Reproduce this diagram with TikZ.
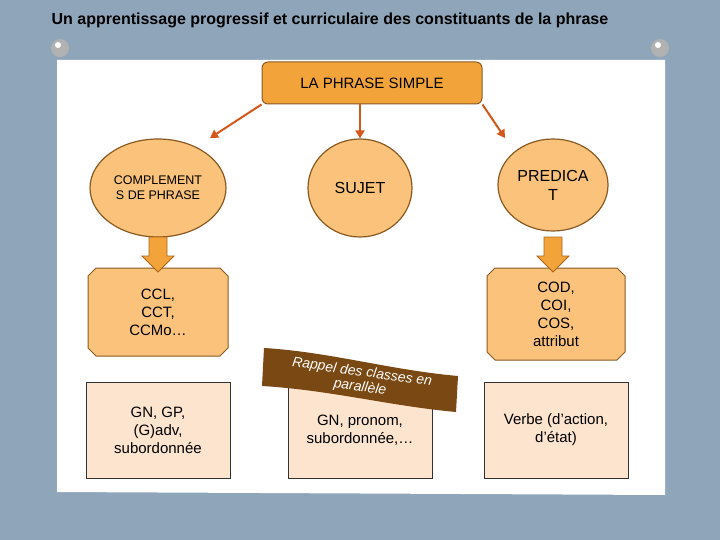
\documentclass[tikz,border=0pt]{standalone}
\usepackage{fontspec}
\setmainfont{Liberation Sans}
\usetikzlibrary{shapes.geometric,shapes.misc,arrows.meta}
\definecolor{bg}{HTML}{8FA6BA}
\definecolor{orA}{HTML}{F2A33A}
\definecolor{orL}{HTML}{FAC27A}
\definecolor{peach}{HTML}{FDE4CF}
\definecolor{brd}{HTML}{8A5A22}
\definecolor{arr}{HTML}{D4581C}
\definecolor{ban}{HTML}{7A4812}
\begin{document}
\begin{tikzpicture}[x=1pt,y=-1pt,
  oval/.style={ellipse,draw=brd,fill=orL,line width=1.2pt,align=center},
  clip8/.style={chamfered rectangle,chamfered rectangle xsep=4pt,chamfered rectangle ysep=4pt,draw=brd,fill=orL,line width=1pt,align=center,font=\fontsize{15}{18}\selectfont},
  lowbox/.style={draw=black!80,fill=peach,line width=1pt,align=center,font=\fontsize{15}{18}\selectfont,minimum width=144pt,minimum height=96pt},
  link/.style={draw=arr,line width=2pt,-{Triangle[length=8pt,width=9pt]}},
  blk/.style={draw=brd!70!orange,fill=orA,line width=0.8pt}]
\useasboundingbox (0,0) rectangle (720,540);
\fill[bg] (0,0) rectangle (720,540);
\fill[white] (57,60) -- (665,60) -- (665,495) -- (57,492) -- cycle;
\foreach \px in {60,660}{\fill[gray!60] (\px,48) circle (9pt); \fill[white] (\px-2,45) circle (3pt);}
\node[font=\bfseries\fontsize{16}{19}\selectfont] (title) at (330,20) {Un apprentissage progressif et curriculaire des constituants de la phrase};
\node[draw=brd,fill=orA,rounded corners=6pt,line width=1pt,minimum width=220pt,minimum height=42pt,font=\fontsize{15}{18}\selectfont] (top) at (372,83) {LA PHRASE SIMPLE};
\node[oval,minimum width=136pt,minimum height=98pt,font=\fontsize{12.5}{15}\selectfont] (cp) at (158,188) {COMPLEMENT\\S DE PHRASE};
\node[oval,minimum width=104pt,minimum height=98pt,font=\fontsize{16}{19}\selectfont] (suj) at (360,188) {SUJET};
\node[oval,minimum width=106pt,minimum height=92pt,font=\fontsize{16}{19}\selectfont] (pred) at (553,185) {PREDICA\\T};
\draw[link] (top.south west) -- (210,138);
\draw[link] (top.south -| suj) -- (suj.north);
\draw[link] (top.south east) -- (505,138);
\node[clip8,minimum width=140pt,minimum height=88pt] (ccl) at (158,312) {CCL,\\CCT,\\CCMo\dots};
\node[clip8,minimum width=138pt,minimum height=92pt] (cod) at (556,314) {COD,\\COI,\\COS,\\attribut};
\foreach \ax in {158,553}{
  \path[blk] (\ax-9,237) -- (\ax+9,237) -- (\ax+9,256) -- (\ax+16,256) -- (\ax,272) -- (\ax-16,256) -- (\ax-9,256) -- cycle;}
\node[lowbox] (b1) at (158,430) {GN, GP,\\(G)adv,\\subordonnée};
\node[lowbox] (b2) at (360,430) {GN, pronom,\\subordonnée,\dots};
\node[lowbox] (b3) at (556,430) {Verbe (d’action,\\d’état)};
\fill[ban] (264,348) .. controls (330,352) and (390,370) .. (458,376) -- (456,412) .. controls (390,406) and (330,390) .. (262,386) -- cycle;
\node[rotate=-8,text=white,font=\itshape\fontsize{14}{15}\selectfont,align=center] (rap) at (361,380) {Rappel des classes en\\parallèle};
\end{tikzpicture}
\end{document}
